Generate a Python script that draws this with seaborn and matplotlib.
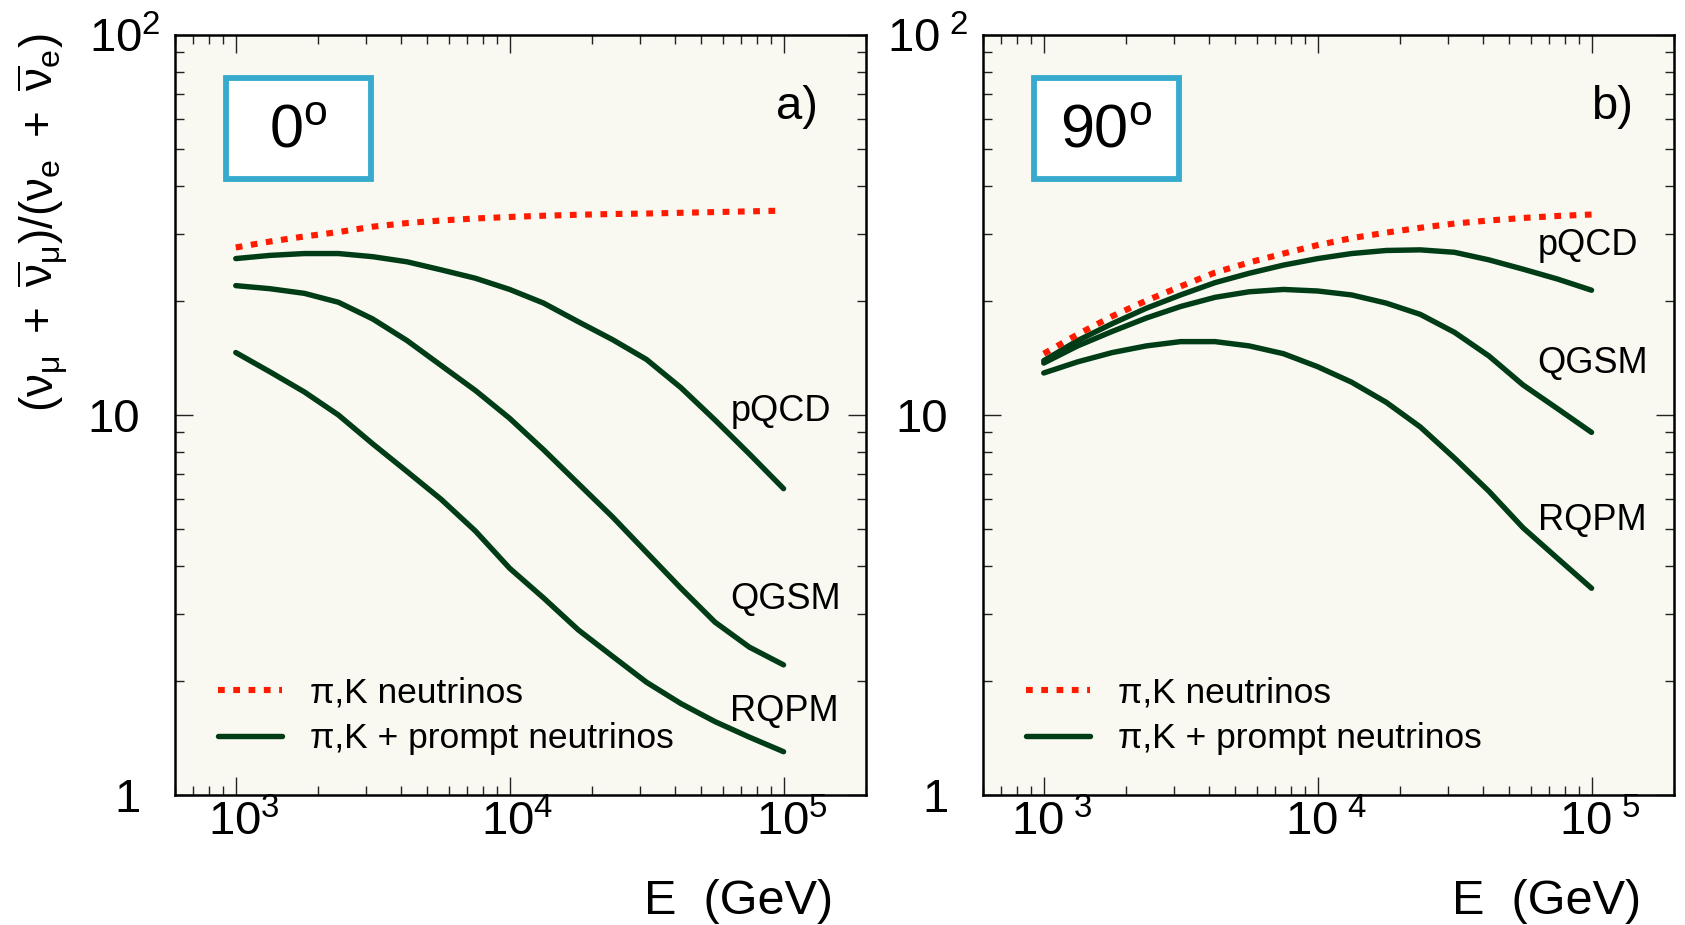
import numpy as np
import pandas as pd
import matplotlib
matplotlib.use("Agg")
import matplotlib.pyplot as plt
from matplotlib.patches import Rectangle
from matplotlib.transforms import ScaledTranslation
from matplotlib.ticker import LogLocator, FixedLocator, FixedFormatter, NullFormatter
import seaborn as sns

# ---------------- data ----------------
energy = [1000, 1330, 1780, 2370, 3160, 4220, 5620, 7500, 10000,
          13300, 17800, 23700, 31600, 42200, 56200, 75000, 100000]

# panel a) 0 degrees
a_pik  = [27.6, 28.6, 29.5, 30.3, 31.3, 32.0, 32.5, 32.9, 33.2,
          33.45, 33.65, 33.8, 33.9, 34.05, 34.2, 34.35, 34.5]
a_pqcd = [25.8, 26.3, 26.6, 26.6, 26.1, 25.3, 24.1, 22.9, 21.4,
          19.7, 17.6, 15.8, 14.0, 11.8, 9.7, 7.9, 6.4]
a_qgsm = [21.9, 21.5, 20.9, 19.8, 17.9, 15.7, 13.5, 11.6, 9.8,
          8.1, 6.6, 5.4, 4.35, 3.5, 2.85, 2.45, 2.2]
a_rqpm = [14.6, 13.0, 11.5, 10.0, 8.4, 7.1, 6.0, 4.95, 3.95,
          3.3, 2.72, 2.32, 1.98, 1.74, 1.56, 1.42, 1.30]

# panel b) 90 degrees
b_pik  = [14.5, 16.3, 18.2, 20.0, 21.8, 23.7, 25.2, 26.6, 28.0,
          29.2, 30.2, 31.1, 31.9, 32.5, 33.0, 33.4, 33.7]
b_pqcd = [13.9, 15.7, 17.4, 19.1, 20.7, 22.3, 23.6, 24.8, 25.8,
          26.6, 27.1, 27.2, 26.8, 25.6, 24.2, 22.8, 21.3]
b_qgsm = [13.7, 15.2, 16.6, 18.0, 19.3, 20.4, 21.1, 21.4, 21.2,
          20.7, 19.7, 18.4, 16.5, 14.3, 12.0, 10.4, 9.0]
b_rqpm = [12.9, 13.8, 14.6, 15.2, 15.6, 15.6, 15.2, 14.5, 13.4,
          12.2, 10.8, 9.3, 7.7, 6.3, 5.05, 4.2, 3.5]

model_names = ["pQCD", "QGSM", "RQPM"]
angles = ["0", "90"]
panel_tags = ["a)", "b)"]
legend_labels = ["\u03c0,K neutrinos", "\u03c0,K + prompt neutrinos"]
xtick_vals = [1e3, 1e4, 1e5]
ytick_vals = [1, 10, 100]

# label positions (data coords)
a_label_pos = [(6.4e4, 10.2), (6.4e4, 3.27), (6.4e4, 1.66)]
b_label_pos = [(6.35e4, 28.0), (6.35e4, 13.7), (6.35e4, 5.29)]

# ---------------- style ----------------
sns.set_theme(style="ticks")
plt.rcParams["font.family"] = ["Liberation Sans", "DejaVu Sans"]
plt.rcParams["mathtext.fontset"] = "custom"
plt.rcParams["mathtext.rm"] = "Liberation Sans"
plt.rcParams["mathtext.it"] = "Liberation Sans"
plt.rcParams["mathtext.bf"] = "Liberation Sans:bold"
plt.rcParams["mathtext.sf"] = "Liberation Sans"
plt.rcParams["text.color"] = "black"
plt.rcParams["xtick.labelcolor"] = "black"
plt.rcParams["ytick.labelcolor"] = "black"

RED = "#ff1a00"
GREEN = "#003d17"
BOXBLUE = "#36abcd"
AXBG = "#f9f9f1"

fig = plt.figure(figsize=(16.85, 9.25), dpi=100)
fig.patch.set_facecolor("white")

ax_w, ax_h = 0.41009, 0.82162
ax_y0 = 0.14054
axes = [fig.add_axes([0.10386, ax_y0, ax_w, ax_h]),
        fig.add_axes([0.58338, ax_y0, ax_w, ax_h])]

panels = [
    (a_pik, [a_pqcd, a_qgsm, a_rqpm], a_label_pos),
    (b_pik, [b_pqcd, b_qgsm, b_rqpm], b_label_pos),
]

for i, (ax, (pik, models, lpos)) in enumerate(zip(axes, panels)):
    ax.set_facecolor(AXBG)
    df = pd.DataFrame({"E": energy, "pik": pik})
    sns.lineplot(data=df, x="E", y="pik", ax=ax, color=RED, lw=4.4,
                 ls=(0, (1.1, 1.4)), label=legend_labels[0], zorder=4)
    red_line = ax.lines[-1]
    red_line.set_dash_capstyle("butt")
    green_line = None
    for j, m in enumerate(models):
        dfm = pd.DataFrame({"E": energy, "r": m})
        sns.lineplot(data=dfm, x="E", y="r", ax=ax, color=GREEN, lw=3.9,
                     label=legend_labels[1] if j == 0 else None, zorder=3)
        if j == 0:
            green_line = ax.lines[-1]
        ax.text(lpos[j][0], lpos[j][1], model_names[j], fontsize=26,
                ha="left", va="center", color="black")

    ax.set_xscale("log")
    ax.set_yscale("log")
    ax.set_xlim(600, 2e5)
    ax.set_ylim(1, 100)
    ax.set_xlabel("")
    ax.set_ylabel("")

    sp = "\\ " if i == 1 else ""
    ax.xaxis.set_major_locator(FixedLocator(xtick_vals))
    ax.xaxis.set_major_formatter(FixedFormatter(
        [r"$\mathregular{10^{%s%d}}$" % (sp, int(np.log10(v))) for v in xtick_vals]))
    ax.xaxis.set_minor_locator(LogLocator(base=10, subs=np.arange(2, 10), numticks=20))
    ax.xaxis.set_minor_formatter(NullFormatter())
    ax.yaxis.set_major_locator(FixedLocator(ytick_vals))
    ax.yaxis.set_major_formatter(FixedFormatter(
        ["1", "10", r"$\mathregular{10^{%s2}}$" % sp]))
    ax.yaxis.set_minor_locator(LogLocator(base=10, subs=np.arange(2, 10), numticks=20))
    ax.yaxis.set_minor_formatter(NullFormatter())

    ax.tick_params(which="both", direction="in", top=True, right=True,
                   color="#222222", width=1.0)
    ax.tick_params(which="major", length=13)
    ax.tick_params(which="minor", length=6.5)
    ax.tick_params(axis="x", which="major", labelsize=34, pad=4)
    ax.tick_params(axis="y", which="major", labelsize=34, pad=25)
    for s in ax.spines.values():
        s.set_linewidth(1.8)
        s.set_color("black")
        s.set_visible(True)

    # shift x tick labels a little right (superscript sticks out)
    for lab in ax.get_xticklabels():
        lab.set_transform(lab.get_transform() + ScaledTranslation(0.08, 0, fig.dpi_scale_trans))
    top_lab = ax.get_yticklabels()[2]
    top_lab.set_transform(top_lab.get_transform() + ScaledTranslation(0.2, 0, fig.dpi_scale_trans))

    # angle box
    ax.add_patch(Rectangle((0.074, 0.811), 0.209, 0.133, transform=ax.transAxes,
                           facecolor="white", edgecolor=BOXBLUE, lw=4.2, zorder=5))
    ax.text(0.1785, 0.872, r"$\mathregular{%s^{o}}$" % angles[i], transform=ax.transAxes,
            fontsize=44, ha="center", va="center", zorder=6)
    # panel tag
    ax.text(0.93 if i == 0 else 0.941, 0.905, panel_tags[i], transform=ax.transAxes,
            fontsize=34, ha="right", va="center")
    # x label
    ax.text(0.952, -0.14, "E  (GeV)", transform=ax.transAxes, fontsize=35,
            ha="right", va="center")

    ax.legend(handles=[red_line, green_line], labels=legend_labels,
              loc="center left", bbox_to_anchor=(0.062, 0.104), frameon=False,
              fontsize=25.5, handlelength=1.8, handletextpad=0.8,
              labelspacing=0.36, borderpad=0, borderaxespad=0)

fig.text(43 / 1685, 1 - 223 / 925,
         r"$(\nu_{\mu}\ +\ \overline{\nu}_{\mu})/(\nu_{e}\ +\ \overline{\nu}_{e})$",
         rotation=90, fontsize=33, ha="center", va="center")

fig.savefig("out.png", dpi=100, facecolor="white")
